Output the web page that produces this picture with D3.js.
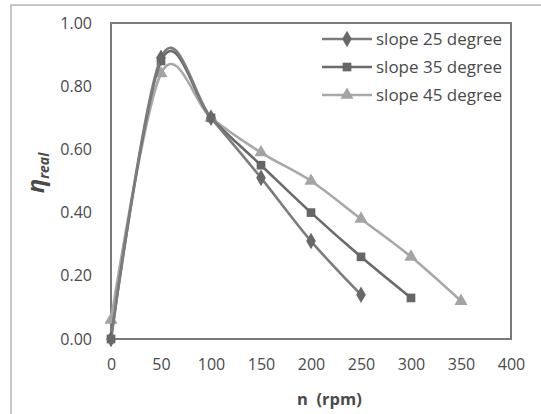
<!DOCTYPE html>
<html>
<head>
<meta charset="utf-8">
<script src="https://cdn.jsdelivr.net/npm/d3@7"></script>
<style>
  body { margin: 0; background: #fff; }
  text { font-family: "Open Sans", "Liberation Sans", sans-serif; fill: #4a4a4a; }
</style>
</head>
<body>
<div class="chart"></div>
<script>
// data
let rpm25 = [0, 50, 100, 150, 200, 250];
let eta25 = [0, 0.89, 0.70, 0.51, 0.31, 0.14];
let rpm35 = [0, 50, 100, 150, 200, 250, 300];
let eta35 = [0, 0.88, 0.70, 0.55, 0.40, 0.26, 0.13];
let rpm45 = [0, 50, 100, 150, 200, 250, 300, 350];
let eta45 = [0.06, 0.84, 0.70, 0.59, 0.50, 0.38, 0.26, 0.12];
let seriesNames = ["slope 25 degree", "slope 35 degree", "slope 45 degree"];
let xTicks = [0, 50, 100, 150, 200, 250, 300, 350, 400];
let yTicks = [0, 0.2, 0.4, 0.6, 0.8, 1.0];

let svgWidth = 541;
let svgHeight = 414;

let plot = { left: 111, right: 511, top: 23, bottom: 339 };

var svg = d3.select(".chart")
  .append("svg")
  .attr("width", svgWidth)
  .attr("height", svgHeight);

// outer frame (only left and top edges are in view)
svg.append("path")
  .attr("d", `M11,${svgHeight} L11,5 L${svgWidth},5`)
  .attr("fill", "none")
  .attr("stroke", "#b4b4b4")
  .attr("stroke-width", 1.5);

let x = d3.scaleLinear().domain([0, 400]).range([plot.left, plot.right]);
let y = d3.scaleLinear().domain([0, 1]).range([plot.bottom, plot.top]);

// plot area border
svg.append("rect")
  .attr("x", plot.left)
  .attr("y", plot.top)
  .attr("width", plot.right - plot.left)
  .attr("height", plot.bottom - plot.top)
  .attr("fill", "none")
  .attr("stroke", "#7a7a7a")
  .attr("stroke-width", 2);

// axes (labels only, Excel style)
let xAxis = svg.append("g")
  .attr("transform", `translate(0, ${plot.bottom})`)
  .call(d3.axisBottom(x).tickValues(xTicks).tickSize(0).tickPadding(20));
xAxis.select(".domain").remove();
xAxis.selectAll("text")
  .style("font-size", "16px")
  .attr("fill", "#444");

let yAxis = svg.append("g")
  .attr("transform", `translate(${plot.left}, 0)`)
  .call(d3.axisLeft(y).tickValues(yTicks).tickFormat(d3.format(".2f")).tickSize(0).tickPadding(19));
yAxis.select(".domain").remove();
yAxis.selectAll("text")
  .style("font-size", "16px")
  .attr("fill", "#444");

// axis titles
svg.append("text")
  .attr("x", 297)
  .attr("y", 405)
  .style("font-size", "16.5px")
  .style("font-weight", "bold")
  .attr("fill", "#3a3a3a")
  .attr("xml:space", "preserve")
  .text("n  (rpm)");

let yTitle = svg.append("text")
  .attr("transform", "translate(44, 173) rotate(-90)")
  .attr("text-anchor", "middle")
  .style("font-weight", "bold")
  .style("font-style", "italic")
  .attr("fill", "#3a3a3a");
yTitle.append("tspan").style("font-size", "24px").text("η");
yTitle.append("tspan").style("font-size", "14px").attr("dy", 5).text("real");

let series = [
  { name: seriesNames[0], xs: rpm25, ys: eta25, line: "#7c7c7c", mark: "#686868", symbol: d3.symbolDiamond, size: 80 },
  { name: seriesNames[1], xs: rpm35, ys: eta35, line: "#6a6a6a", mark: "#666666", symbol: d3.symbolSquare, size: 75 },
  { name: seriesNames[2], xs: rpm45, ys: eta45, line: "#a8a8a8", mark: "#a4a4a4", symbol: d3.symbolTriangle, size: 75 }
];

let line = d3.line()
  .x(d => x(d[0]))
  .y(d => y(d[1]))
  .curve(d3.curveCardinal.tension(0));

// draw lighter series first so darker ones sit on top
series.slice().reverse().forEach(function(s) {
  let pts = s.xs.map((v, i) => [v, s.ys[i]]);
  svg.append("path")
    .datum(pts)
    .attr("d", line)
    .attr("fill", "none")
    .attr("stroke", s.line)
    .attr("stroke-width", 2.6);

  svg.selectAll(null)
    .data(pts)
    .enter()
    .append("path")
    .attr("transform", d => `translate(${x(d[0])}, ${y(d[1])})`)
    .attr("d", d3.symbol().type(s.symbol).size(s.size))
    .attr("fill", s.mark);
});

// legend
let legend = svg.append("g");
series.forEach(function(s, i) {
  let cy = 39 + i * 28;
  legend.append("line")
    .attr("x1", 322).attr("x2", 372)
    .attr("y1", cy).attr("y2", cy)
    .attr("stroke", s.line)
    .attr("stroke-width", 2.6);
  legend.append("path")
    .attr("transform", `translate(347, ${cy})`)
    .attr("d", d3.symbol().type(s.symbol).size(s.size))
    .attr("fill", s.mark);
  legend.append("text")
    .attr("x", 376)
    .attr("y", cy + 6)
    .style("font-size", "17px")
    .attr("fill", "#3a3a3a")
    .text(s.name);
});
</script>
</body>
</html>
